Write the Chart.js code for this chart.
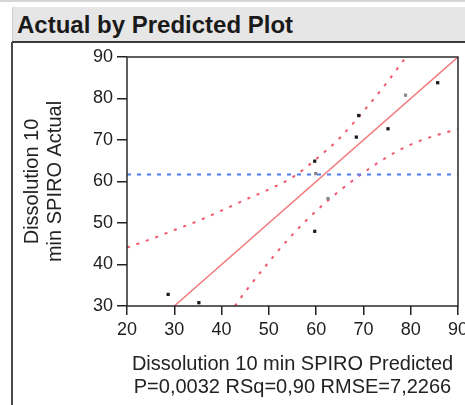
<!DOCTYPE html>
<html>
<head>
<meta charset="utf-8">
<script src="https://cdn.jsdelivr.net/npm/chart.js@4/dist/chart.umd.min.js"></script>
<style>
  html, body { margin:0; padding:0; background:#fff; width:465px; height:405px; overflow:hidden; position:relative; }
  #topline { position:absolute; left:0; top:0; width:465px; height:2px; background:#d6d6d6; }
  #titlebar { position:absolute; left:12px; top:7px; width:453px; height:34px; background:#e6e6e6;
    font-family:"Liberation Sans", Arial, sans-serif; font-weight:bold; font-size:24px; line-height:34px;
    color:#1a1a1a; box-sizing:border-box; padding-left:4px; padding-top:1px; border-left:1px solid #d0d0d0; }
  #underline { position:absolute; left:12px; top:41px; width:453px; height:2px; background:#3a3a3a; }
  #leftline { position:absolute; left:11px; top:42px; width:2px; height:363px; background:#4a4a4a; }
  #wrap { position:absolute; left:0; top:0; width:500px; height:405px; }
</style>
</head>
<body>
<div id="topline"></div>
<div id="titlebar">Actual by Predicted Plot</div>
<div id="underline"></div>
<div id="leftline"></div>
<div id="wrap"><canvas id="c" width="500" height="405"></canvas></div>
<script>
// ---- data ----
const xTicks = [20, 30, 40, 50, 60, 70, 80, 90];
const yTicks = [30, 40, 50, 60, 70, 80, 90];

const blackPredicted = [85.7, 69.0, 75.2, 68.5, 59.7, 59.7, 28.7, 35.2];
const blackActual    = [83.8, 75.9, 72.7, 70.7, 64.9, 48.0, 32.8, 30.8];

const greyPredicted  = [78.9, 59.9, 62.5];
const greyActual     = [80.8, 61.9, 55.9];

const fitX = [30, 90];
const fitY = [30, 90];

const meanActual = 61.67;
const meanX = [20, 90];

const upperX = [20, 25, 30, 35, 40, 45, 50, 55, 60, 65, 70, 75, 79];
const upperY = [44.1, 46.1, 48.3, 50.5, 53.0, 55.6, 58.1, 61.0, 65.4, 70.5, 76.9, 83.9, 90.0];

const lowerX = [42.8, 45, 50, 55, 60, 65, 70, 75, 80, 85, 90];
const lowerY = [30.0, 33.4, 40.6, 47.2, 52.9, 57.8, 62.1, 65.9, 68.9, 71.0, 72.6];

const xTitle = ['Dissolution 10 min SPIRO Predicted', 'P=0,0032 RSq=0,90 RMSE=7,2266'];
const yTitle = ['Dissolution 10', 'min SPIRO Actual'];

const pts = (xs, ys) => xs.map((x, i) => ({x: x, y: ys[i]}));

const FONT = '"Liberation Sans", Arial, sans-serif';

const framePlugin = {
  id: 'frame',
  afterDatasetsDraw(chart) {
    const a = chart.chartArea, ctx = chart.ctx;
    ctx.save();
    ctx.strokeStyle = '#2a2a2a';
    ctx.lineWidth = 1.5;
    ctx.strokeRect(a.left, a.top, a.right - a.left, a.bottom - a.top);
    ctx.restore();
  }
};

new Chart(document.getElementById('c'), {
  type: 'scatter',
  data: {
    datasets: [
      { data: pts(blackPredicted, blackActual), pointStyle: 'rect', pointRadius: 2.3,
        backgroundColor: '#1a1a1a', borderWidth: 0, showLine: false },
      { data: pts(greyPredicted, greyActual), pointStyle: 'rect', pointRadius: 2.3,
        backgroundColor: '#8a8a8a', borderWidth: 0, showLine: false },
      { data: pts(fitX, fitY), showLine: true, pointRadius: 0, borderColor: '#f27a7a', borderWidth: 1.5 },
      { data: pts(meanX, meanX.map(() => meanActual)), showLine: true, pointRadius: 0,
        borderColor: '#4d7cf5', borderWidth: 2, borderDash: [4, 6] },
      { data: pts(upperX, upperY), showLine: true, pointRadius: 0, borderColor: '#f2566e',
        borderWidth: 2, borderDash: [3, 7], cubicInterpolationMode: 'monotone' },
      { data: pts(lowerX, lowerY), showLine: true, pointRadius: 0, borderColor: '#f2566e',
        borderWidth: 2, borderDash: [3, 7], cubicInterpolationMode: 'monotone' }
    ]
  },
  options: {
    responsive: false,
    animation: false,
    devicePixelRatio: 1,
    layout: { padding: { top: 57, left: 0, right: 42, bottom: 0 } },
    plugins: { legend: { display: false }, tooltip: { enabled: false } },
    scales: {
      x: {
        type: 'linear', min: 20, max: 90,
        afterBuildTicks: s => { s.ticks = xTicks.map(v => ({value: v})); },
        afterFit: s => { s.height = 99; },
        grid: { display: true, drawOnChartArea: false, drawTicks: true, tickLength: 9, color: '#222', lineWidth: 1.5 },
        border: { display: false },
        ticks: { color: '#1e1e1e', font: { family: FONT, size: 18 }, padding: 4, maxRotation: 0 },
        title: { display: true, text: xTitle, color: '#222', font: { family: FONT, size: 20, lineHeight: 1.15 },
          padding: { top: 0, bottom: 6 } }
      },
      y: {
        type: 'linear', min: 30, max: 90,
        afterBuildTicks: s => { s.ticks = yTicks.map(v => ({value: v})); },
        afterFit: s => { s.width = 127; },
        grid: { display: true, drawOnChartArea: false, drawTicks: true, tickLength: 10, color: '#222', lineWidth: 1.5 },
        border: { display: false },
        ticks: { color: '#1e1e1e', font: { family: FONT, size: 18 }, padding: 4 },
        title: { display: true, text: yTitle, color: '#222', font: { family: FONT, size: 20, lineHeight: 1.15 },
          padding: { top: 21, bottom: 0 } }
      }
    }
  },
  plugins: [framePlugin]
});
</script>
</body>
</html>
